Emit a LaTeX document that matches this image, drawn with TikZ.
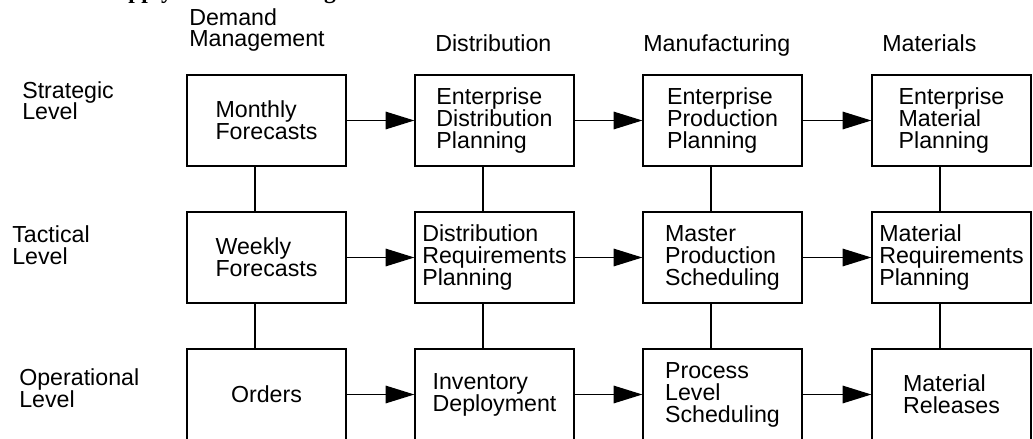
\documentclass[tikz,border=0pt]{standalone}
\usepackage{fontspec}
\setmainfont{Liberation Sans}
\newfontfamily\titlefont{Liberation Serif}
\usetikzlibrary{arrows.meta}
\usetikzlibrary{positioning}
\newcommand{\planfont}{\fontsize{16.5}{15.6}\selectfont}
\tikzset{feed/.style = {-{Triangle[length = 0.72cm, width = 0.44cm]}, line width = 0.9pt}}
\tikzset{link/.style = {line width = 0.9pt}}
\tikzset{plan/.style = {draw, line width = 0.9pt, minimum width = 3.975cm,
                        minimum height = 2.275cm, inner sep = 0, align = left,
                        font = \planfont}}
\tikzset{rowhead/.style = {anchor = base west, align = left, inner sep = 0,
                           font = \planfont}}

\begin{document}
\begin{tikzpicture}[x = 0.025cm, y = -0.025cm]
    \useasboundingbox (0, 0) rectangle (1033, 439);
    \clip (0, 0) rectangle (1033, 439);

    % title, cut by the top edge
    \node at (102, -1) [anchor = base west, inner sep = 0,
        font = {\titlefont\bfseries\fontsize{16.7}{16.7}\selectfont}] (title) {Supply Chain Planning};

    % column and row headings (base = last line)
    \node at (189, 47) [rowhead] (demand) {Demand\\Management};
    \node at (435, 52) [rowhead] (distribution) {Distribution};
    \node at (643, 52) [rowhead] (manufacturing) {Manufacturing};
    \node at (882, 52) [rowhead] (materials) {Materials};

    \node at (22, 120) [rowhead] (strategic) {Strategic\\Level};
    \node at (12, 264) [rowhead] (tactical) {Tactical\\Level};
    \node at (19, 407) [rowhead] (operational) {Operational\\Level};

    % strategic level
    \node at (266.5, 120.5) [plan] (monthly) {Monthly\\Forecasts};
    \node at (494.5, 120.5) [plan] (edp) {Enterprise\\Distribution\\Planning};
    \node at (722.5, 120.5) [plan] (epp) {Enterprise\\Production\\Planning};
    \node at (951.5, 120.5) [plan] (emp) {Enterprise\\Material\\Planning};

    % tactical level
    \node at (266.5, 257.5) [plan] (weekly) {Weekly\\Forecasts};
    \node at (494.5, 257.5) [plan] (drp) {Distribution\\Requirements\\Planning};
    \node at (722.5, 257.5) [plan] (mps) {Master\\Production\\Scheduling};
    \node at (951.5, 257.5) [plan] (mrp) {Material\\Requirements\\Planning};

    % operational level
    \node at (266.5, 394.5) [plan] (orders) {Orders};
    \node at (494.5, 394.5) [plan] (deploy) {Inventory\\Deployment};
    \node at (722.5, 394.5) [plan] (pls) {Process\\Level\\Scheduling};
    \node at (951.5, 394.5) [plan] (releases) {Material\\Releases};

    \draw [feed] (monthly) -- (edp);
    \draw [feed] (edp) -- (epp);
    \draw [feed] (epp) -- (emp);
    \draw [feed] (weekly) -- (drp);
    \draw [feed] (drp) -- (mps);
    \draw [feed] (mps) -- (mrp);
    \draw [feed] (orders) -- (deploy);
    \draw [feed] (deploy) -- (pls);
    \draw [feed] (pls) -- (releases);

    \draw [link] ([xshift = -0.29cm] monthly.south) -- ([xshift = -0.29cm] weekly.north);
    \draw [link] ([xshift = -0.29cm] weekly.south) -- ([xshift = -0.29cm] orders.north);
    \draw [link] ([xshift = -0.29cm] edp.south) -- ([xshift = -0.29cm] drp.north);
    \draw [link] ([xshift = -0.29cm] drp.south) -- ([xshift = -0.29cm] deploy.north);
    \draw [link] ([xshift = -0.29cm] epp.south) -- ([xshift = -0.29cm] mps.north);
    \draw [link] ([xshift = -0.29cm] mps.south) -- ([xshift = -0.29cm] pls.north);
    \draw [link] ([xshift = -0.29cm] emp.south) -- ([xshift = -0.29cm] mrp.north);
    \draw [link] ([xshift = -0.29cm] mrp.south) -- ([xshift = -0.29cm] releases.north);
\end{tikzpicture}
\end{document}
